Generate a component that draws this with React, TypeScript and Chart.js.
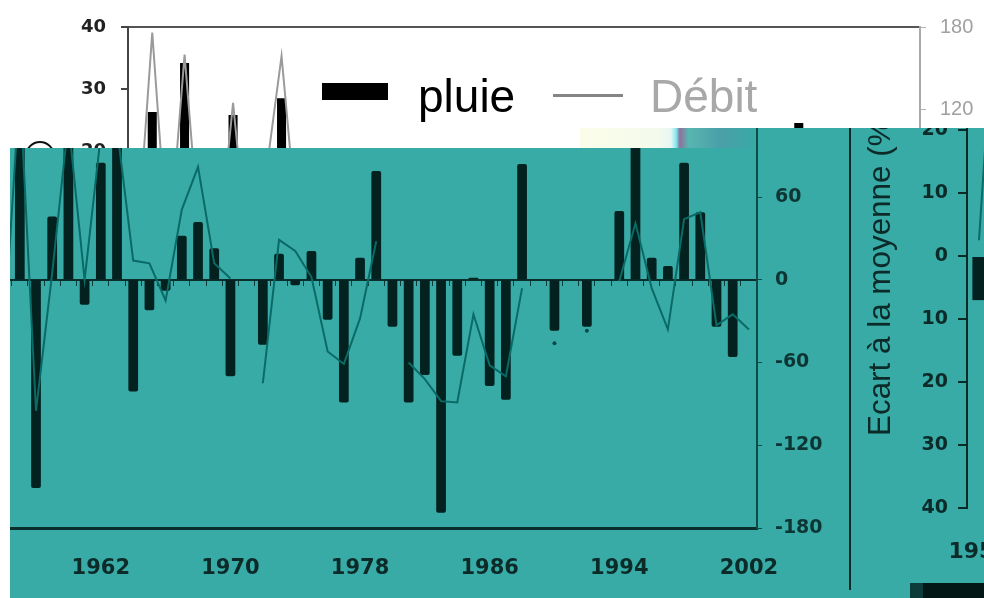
import React, { useEffect, useRef } from 'react';
import Chart from 'chart.js/auto';

// ---------- main (teal) chart data ----------
const years = ['1956','1957','1958','1959','1960','1961','1962','1963','1964','1965','1966','1967','1968','1969','1970','1971','1972','1973','1974','1975','1976','1977','1978','1979','1980','1981','1982','1983','1984','1985','1986','1987','1988','1989','1990','1991','1992','1993','1994','1995','1996','1997','1998','1999','2000','2001','2002'];
const pluie = [null,110,-151,46,100,-18,85,105,-81,-22,-8,32,42,23,-70,null,-47,19,-4,21,-29,-89,16,79,-34,-89,-69,-169,-55,1.5,-77,-87,84,null,-37,null,-34,null,50,100,16,10,85,49,-34,-56,null];
const debit = [-45,140,-95,5,115,0,105,110,14,12,-15,51,82,12,1,null,-75,29,21,2,-52,-61,-28,28,null,-60,-72,-88,-89,-25,-62,-70,-6,null,-46,null,-37,null,-1,41,-6,-36,44,49,-33,-25,-36];
const xTickLabels = ['1962','1970','1978','1986','1994','2002'];

// ---------- top (white) chart data ----------
const whiteYears = ['1950','1951','1952','1953','1954','1955','1956','1957','1958','1959','1960','1961','1962','1963','1964','1965','1966','1967','1968','1969','1970','1971','1972','1973','1974','1975','1976','1977','1978','1979','1980','1981','1982','1983','1984','1985','1986','1987','1988','1989','1990','1991','1992','1993','1994','1995','1996','1997','1998'];
const whitePluie = [12,26.3,14,34.2,10,16,25.8,13,18,28.5,15,17,11,19,14,9,18,16,12,19,15,13,19,10,17,14,18,12,16,19,11,15,18,13,17,12,19,14,16,10,18,24.5,15,12,18,14,17,11,16];
const whiteDebit = [10,176,12,160,15,8,125,6,70,159,30,45,60,38,52,70,41,35,66,58,49,72,40,55,63,37,48,69,52,44,61,39,57,66,42,50,71,46,59,38,64,53,45,68,41,56,62,47,51];

// ---------- right (mini) chart data ----------
const miniYears = ['1950','1951','1952'];
const miniPluie = [-7,12,-15];
const miniDebit = [2.5,60,-10];
const miniTickLabels = ['1950'];

const TEAL = '#38aba7';
const BAR_DARK = '#03211f';
const LINE_TEAL = '#0a6a65';
const TXT_DARK = '#0b2a28';
const BOLD = "'DejaVu Sans', sans-serif";
const SANS = "'Liberation Sans', Arial, sans-serif";

export default function App() {
  const whiteRef = useRef<HTMLCanvasElement>(null);
  const mainRef = useRef<HTMLCanvasElement>(null);
  const miniRef = useRef<HTMLCanvasElement>(null);

  useEffect(() => {
    const charts: Chart[] = [];

    charts.push(new Chart(whiteRef.current!, {
      type: 'bar',
      data: {
        labels: whiteYears,
        datasets: [
          { type: 'line', label: 'Débit', data: whiteDebit, yAxisID: 'y1', borderColor: '#9a9a9a', borderWidth: 2, pointRadius: 0, tension: 0, order: 0 } as any,
          { type: 'bar', label: 'pluie', data: whitePluie, yAxisID: 'y', backgroundColor: '#000', barPercentage: 0.56, categoryPercentage: 1, order: 1 } as any,
        ],
      },
      options: {
        responsive: false, animation: false, devicePixelRatio: 1,
        layout: { padding: 0 },
        plugins: { legend: { display: false }, tooltip: { enabled: false } },
        scales: {
          x: {
            display: true, offset: true,
            ticks: { display: false }, grid: { display: false, drawTicks: false },
            border: { display: false },
            afterFit: (s: any) => { s.height = 30; },
          },
          xTop: {
            type: 'category', position: 'top', offset: true,
            ticks: { display: false }, grid: { display: false, drawTicks: false },
            border: { display: true, color: '#555', width: 2 },
            afterFit: (s: any) => { s.height = 27; },
          },
          y: {
            position: 'left', min: 0, max: 40,
            ticks: { stepSize: 10, padding: 15, color: '#222', font: { family: BOLD, weight: 'bold', size: 18 } },
            grid: { drawOnChartArea: false, tickLength: 7, color: '#444', lineWidth: 2 },
            border: { color: '#444', width: 2 },
            afterFit: (s: any) => { s.width = 128; },
          },
          y1: {
            position: 'right', min: 0, max: 180,
            ticks: { stepSize: 60, padding: 14, color: '#a0a0a0', font: { family: SANS, size: 20 } },
            grid: { drawOnChartArea: false, tickLength: 6, color: '#b0b0b0', lineWidth: 1 },
            border: { color: '#aaa', width: 2 },
            afterFit: (s: any) => { s.width = 64; },
          },
        },
      } as any,
    }));

    charts.push(new Chart(mainRef.current!, {
      type: 'bar',
      data: {
        labels: years,
        datasets: [
          {
            type: 'line', label: 'Débit', data: debit, yAxisID: 'y', borderColor: LINE_TEAL, borderWidth: 2,
            pointRadius: (c: any) => {
              const i = c.dataIndex;
              return debit[i] != null && debit[i - 1] == null && debit[i + 1] == null ? 2 : 0;
            },
            pointBackgroundColor: '#0a4a46', pointBorderWidth: 0, tension: 0, spanGaps: false, order: 0,
          } as any,
          { type: 'bar', label: 'pluie', data: pluie, yAxisID: 'y', backgroundColor: BAR_DARK, barPercentage: 0.6, categoryPercentage: 1, borderRadius: 2, order: 1 } as any,
        ],
      },
      options: {
        responsive: false, animation: false, devicePixelRatio: 1,
        layout: { padding: { left: 25.5, top: 21, right: 0, bottom: 0 } },
        plugins: { legend: { display: false }, tooltip: { enabled: false } },
        scales: {
          x: {
            position: 'bottom', offset: true,
            grid: { display: false, drawTicks: false },
            border: { display: true, color: '#0a2e2c', width: 3 },
            ticks: {
              autoSkip: false, maxRotation: 0, minRotation: 0, padding: 28, color: TXT_DARK,
              font: { family: BOLD, weight: 'bold', size: 21 },
              callback: (_v: any, i: number) => (xTickLabels.includes(years[i]) ? years[i] : ''),
            },
            afterFit: (s: any) => { s.height = 72; },
          },
          x0: {
            type: 'category', position: { y: 0 }, offset: true,
            grid: { display: true, offset: true, drawOnChartArea: false, drawTicks: true, tickLength: 5, color: '#0a3d3a', lineWidth: 1 },
            border: { display: true, color: '#0a2e2c', width: 2 },
            ticks: { display: false },
            afterFit: (s: any) => { s.height = 0; },
          },
          y: {
            position: 'right', min: -180, max: 120,
            ticks: { stepSize: 60, padding: 13, color: '#0d3533', font: { family: BOLD, weight: 'bold', size: 19 } },
            grid: { drawOnChartArea: false, tickLength: 5, color: '#0c4d49', lineWidth: 1 },
            border: { color: '#0c4d49', width: 2 },
            afterFit: (s: any) => { s.width = 93; },
          },
        },
      } as any,
    }));

    charts.push(new Chart(miniRef.current!, {
      type: 'bar',
      data: {
        labels: miniYears,
        datasets: [
          { type: 'line', data: miniDebit, borderColor: LINE_TEAL, borderWidth: 2, pointRadius: 0, tension: 0, order: 0 } as any,
          { type: 'bar', data: miniPluie, backgroundColor: BAR_DARK, barPercentage: 0.55, categoryPercentage: 1, order: 1 } as any,
        ],
      },
      options: {
        responsive: false, animation: false, devicePixelRatio: 1,
        layout: { padding: { left: 0, top: 28, right: 25, bottom: 0 } },
        plugins: { legend: { display: false }, tooltip: { enabled: false } },
        scales: {
          x: {
            offset: true,
            grid: { display: false, drawTicks: false },
            border: { display: false },
            ticks: {
              autoSkip: false, maxRotation: 0, minRotation: 0, padding: 31, color: TXT_DARK,
              font: { family: BOLD, weight: 'bold', size: 22 },
              callback: (_v: any, i: number) => (miniTickLabels.includes(miniYears[i]) ? miniYears[i] : ''),
            },
            afterFit: (s: any) => { s.height = 90; },
          },
          y: {
            position: 'left', min: -40, max: 23.5,
            ticks: { stepSize: 10, includeBounds: false, padding: 10, color: TXT_DARK, font: { family: BOLD, weight: 'bold', size: 19 }, callback: (v: any) => String(Math.abs(Number(v))) },
            grid: { drawOnChartArea: false, tickLength: 9, color: '#0a2a28', lineWidth: 2 },
            border: { color: '#0a2a28', width: 2 },
            title: { display: true, text: 'Ecart à la moyenne (%)', align: 'end', color: TXT_DARK, font: { family: SANS, size: 31.4, weight: 'normal' }, padding: { top: 13, bottom: 0 } },
            afterFit: (s: any) => { s.width = 117; },
          },
        },
      } as any,
    }));

    return () => { charts.forEach((c) => c.destroy()); };
  }, []);

  return (
    <div style={{ position: 'fixed', left: 0, top: 0, width: 984, height: 598, overflow: 'hidden', background: '#fff' }}>
      {/* top white chart */}
      <canvas ref={whiteRef} width={984} height={305} style={{ position: 'absolute', left: 0, top: 0 }} />
      {/* legend */}
      <div style={{ position: 'absolute', left: 322, top: 83, width: 66, height: 17, background: '#000' }} />
      <div style={{ position: 'absolute', left: 418, top: 73, fontFamily: SANS, fontSize: 46, lineHeight: '46px', color: '#000', whiteSpace: 'nowrap' }}>pluie</div>
      <div style={{ position: 'absolute', left: 553, top: 94, width: 70, height: 3, background: '#858585' }} />
      <div style={{ position: 'absolute', left: 650, top: 73, fontFamily: SANS, fontSize: 46, lineHeight: '46px', color: '#a8a8a8', whiteSpace: 'nowrap' }}>Débit</div>
      {/* panel label circle (mostly hidden) */}
      <div style={{ position: 'absolute', left: 25, top: 141, width: 26, height: 26, borderRadius: '50%', border: '2px solid #111' }} />
      {/* image seam strip */}
      <div style={{ position: 'absolute', left: 580, top: 128, width: 175, height: 20, background: 'linear-gradient(90deg, #fbfde9 0%, #f4faec 45%, #e6f6f4 52%, #7fe8ec 55%, #8f6f9a 57%, #58b6b0 62%, #4a9fa8 80%, #3aa9a5 100%)' }} />
      {/* teal panel */}
      <div style={{ position: 'absolute', left: 10, top: 128, width: 974, height: 470, background: TEAL, overflow: 'hidden', clipPath: 'polygon(0px 20px, 745px 20px, 745px 0px, 974px 0px, 974px 470px, 0px 470px)' }}>
        <canvas ref={mainRef} width={880} height={510} style={{ position: 'absolute', left: -40, top: -38 }} />
        <div style={{ position: 'absolute', left: 839, top: 0, width: 2, height: 462, background: '#0a2a28' }} />
        <canvas ref={miniRef} width={214} height={518} style={{ position: 'absolute', left: 840, top: -48 }} />
        <div style={{ position: 'absolute', left: 900, top: 455, width: 13, height: 15, background: '#0e3c3a' }} />
        <div style={{ position: 'absolute', left: 913, top: 455, width: 61, height: 15, background: '#031816' }} />
      </div>
    </div>
  );
}
